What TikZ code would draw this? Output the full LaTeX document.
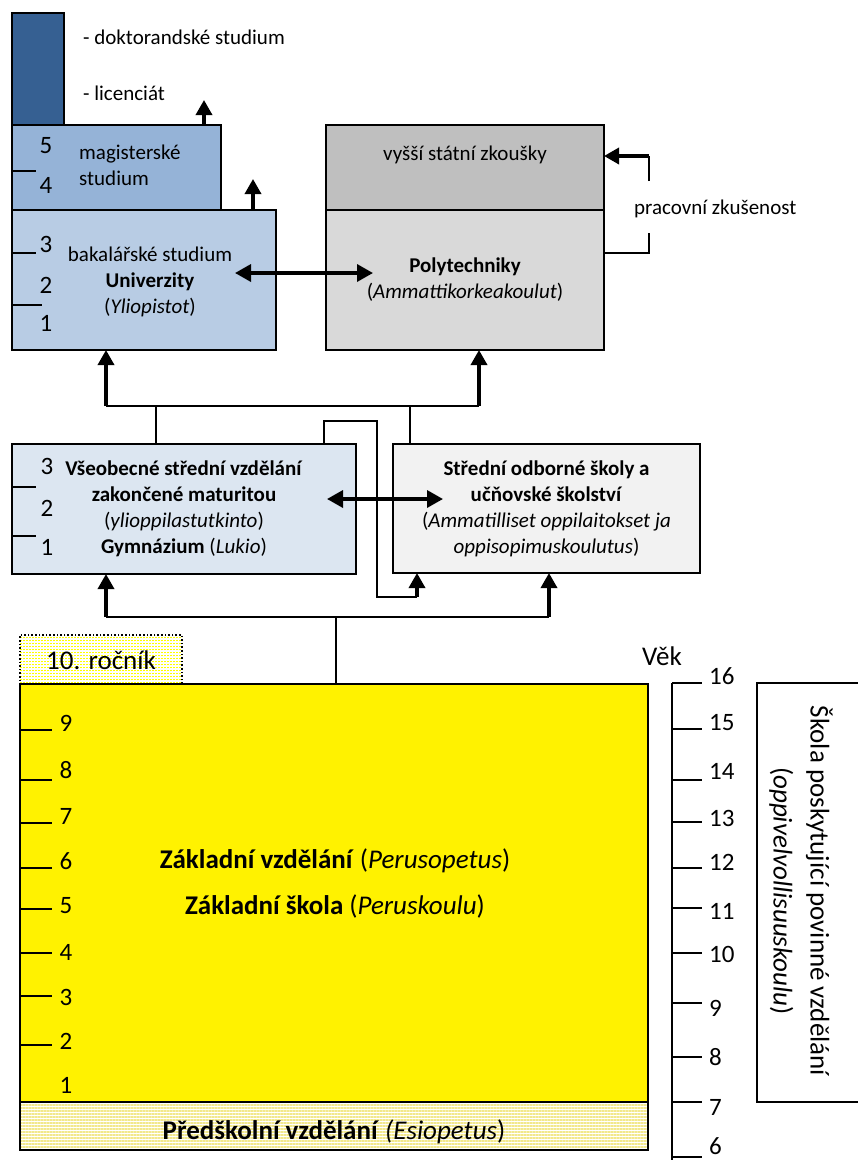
\documentclass[tikz,border=0pt]{standalone}
\usepackage{fontspec}
\setmainfont{Carlito}
\usetikzlibrary{arrows.meta, positioning, patterns.meta}

\definecolor{docblue}{HTML}{366092}
\definecolor{magblue}{HTML}{95B3D7}
\definecolor{bakblue}{HTML}{B8CCE4}
\definecolor{gymblue}{HTML}{DCE6F1}
\definecolor{examgray}{HTML}{BFBFBF}
\definecolor{polygray}{HTML}{D9D9D9}
\definecolor{vocgray}{HTML}{F2F2F2}
\definecolor{paleyellow}{HTML}{F2E88C}

\tikzset{
	box/.style={draw, line width=1.6pt, inner sep=0pt, outer sep=0pt, align=center},
	conn/.style={line width=1.5pt},
	link/.style={line width=3.4pt, -{Triangle[length=15pt,width=16pt]}},
	twoway/.style={line width=3.4pt, {Triangle[length=16pt,width=17pt]}-{Triangle[length=16pt,width=17pt]}},
	tickline/.style={line width=1.6pt},
	num/.style={inner sep=0pt, font=\fontsize{25}{30}\selectfont},
	big/.style={font=\fontsize{27}{37}\selectfont},
	every node/.append style={font=\fontsize{21}{26}\selectfont},
}

\begin{document}
\begin{tikzpicture}[x=1pt, y=-1pt]
	\useasboundingbox (0,0) rectangle (857,1162);

	% university side
	\node (doc) [box, fill=docblue, minimum width=52pt, minimum height=112pt] at (38,69) {};
	\node (mag) [box, fill=magblue, minimum width=209pt, minimum height=85pt] at (116.5,167.5) {};
	\node (bak) [box, fill=bakblue, minimum width=264pt, minimum height=140pt] at (144,280) {};
	\node (baklab) [align=center] at (150,282)
		{bakalářské studium\\\textbf{Univerzity}\\(\textit{Yliopistot})};
	\node (doklab) [anchor=west, inner sep=0pt] at (83,37) {- doktorandské studium};
	\node (liclab) [anchor=west, inner sep=0pt] at (83,93) {- licenciát};
	\node (maglab) [anchor=west, align=left, inner sep=0pt] at (79,165) {magisterské\\studium};

	% polytechnics
	\node (exam) [box, fill=examgray, minimum width=278pt, minimum height=85pt] at (465,167.5) {};
	\node (poly) [box, fill=polygray, minimum width=278pt, minimum height=140pt] at (465,280)
		{\textbf{Polytechniky}\\(\textit{Ammattikorkeakoulut})};
	\node (examlab) at (465,155) {vyšší státní zkoušky};
	\node (worklab) [anchor=west, inner sep=0pt] at (634,209) {pracovní zkušenost};

	% secondary level
	\node (gym) [box, fill=gymblue, minimum width=344pt, minimum height=130pt] at (184,509)
		{\textbf{Všeobecné střední vzdělání}\\\textbf{zakončené maturitou}\\(\textit{ylioppilastutkinto})\\\textbf{Gymnázium} (\textit{Lukio})};
	\node (voc) [box, fill=vocgray, minimum width=307pt, minimum height=129pt] at (546.5,508.5)
		{\textbf{Střední odborné školy a}\\\textbf{učňovské školství}\\(\textit{Ammatilliset oppilaitokset ja}\\\textit{oppisopimuskoulutus})};

	% basic level
	\node (grade10) [box, dotted, pattern={Lines[angle=90,distance=3pt,line width=1.5pt]}, pattern color=yellow,
		minimum width=162pt, minimum height=49pt] at (101,659.5) {};
	\node (grade10lab) [big] at (101,660) {10. ročník};
	\node (basic) [box, fill=yellow, minimum width=628pt, minimum height=418pt] at (334,893) {};
	\node (pre) [box, pattern={Lines[angle=0,distance=3pt,line width=1.3pt]}, pattern color=paleyellow,
		minimum width=628pt, minimum height=48pt] at (334,1126) {};
	\node (basiclab1) [big] at (335,861) {\textbf{Základní vzdělání} (\textit{Perusopetus})};
	\node (basiclab2) [big] at (335,906) {\textbf{Základní škola} (\textit{Peruskoulu})};
	\node (prelab) [big] at (334,1132) {\textbf{Předškolní vzdělání} \textit{(Esiopetus})};

	% compulsory school
	\node (comp) [box, minimum width=105pt, minimum height=419pt] at (809.5,892.5) {};
	\node (complab) [big, rotate=-90, align=center] at (801,891)
		{Škola poskytující povinné vzdělání\\(\textit{oppivelvollisuuskoulu})};

	% year numbers
	\foreach \n/\y in {5/146, 4/185, 3/244, 2/285, 1/323}
		\node (uni\n) [num] at (46,\y) {\n};
	\foreach \n/\y in {3/466, 2/508, 1/547}
		\node (gymn\n) [num] at (47,\y) {\n};
	\draw [tickline] (12,171) -- (36,171);
	\draw [tickline] (12,253) -- (36,253);
	\draw [tickline] (12,305) -- (42,305);
	\draw [tickline] (12,487) -- (36,487);
	\draw [tickline] (12,536) -- (36,536);
	\foreach \t in {730, 780, 823, 868, 909, 953, 996, 1045}
		\draw [tickline] (20,\t) -- (52,\t);
	\foreach \n/\y in {9/723, 8/770, 7/816, 6/861, 5/906, 4/952, 3/997, 2/1041, 1/1085}
		\node (grade\n) [num] at (66,\y) {\n};

	% age scale
	\node (agelab) [big] at (662,656) {Věk};
	\draw [tickline] (672,683) -- (672,1160);
	\foreach \a/\t/\l in {16/683/676, 15/729/723, 14/780/771, 13/822/818, 12/868/862, 11/908/911,
		10/953/954, 9/1003/1008, 8/1057/1057, 7/1102/1107, 6/1157/1146}
	{
		\draw [tickline] (672,\t) -- (702,\t);
		\node (age\a) [num, anchor=west] at (709,\l) {\a};
	}

	% connectors
	\coordinate (magout) at (204,100);
	\coordinate (bakout) at (253,179);
	\draw [link] (magout |- mag.north) -- (magout);
	\draw [link] (bakout |- bak.north) -- (bakout);

	\coordinate (bakin) at (235,273);
	\coordinate (polyin) at (373,273);
	\draw [twoway] (bakin) -- (polyin);

	\coordinate (workup) at (649,156);
	\coordinate (worktop) at (649,181);
	\coordinate (workbot) at (649,233);
	\coordinate (worklow) at (649,253);
	\draw [conn] (poly.east |- worklow) -- (worklow) -- (workbot);
	\draw [conn] (worktop) -- (workup);
	\draw [link] (workup) -- (exam.east |- workup);

	\coordinate (hubl) at (106,406);
	\coordinate (hubr) at (479,406);
	\coordinate (gymup) at (156,406);
	\coordinate (vocup) at (410,406);
	\draw [conn] (hubl) -- (hubr);
	\draw [conn] (gymup |- gym.north) -- (gymup);
	\draw [conn] (vocup |- voc.north) -- (vocup);
	\draw [link] (hubl) -- (hubl |- bak.south);
	\draw [link] (hubr) -- (hubr |- poly.south);

	\coordinate (loopa) at (324,421);
	\coordinate (loopb) at (377,597);
	\coordinate (loopc) at (417,597);
	\draw [conn] (loopa |- gym.north) -- (loopa) -| (loopb) -- (loopc);
	\draw [link] (loopc) -- (loopc |- voc.south);

	\coordinate (gymin) at (327,499);
	\coordinate (vocin) at (443,499);
	\draw [twoway] (gymin) -- (vocin);

	\coordinate (basel) at (106,617);
	\coordinate (baser) at (549,617);
	\coordinate (basem) at (336,617);
	\draw [conn] (basel) -- (baser);
	\draw [conn] (basem |- basic.north) -- (basem);
	\draw [link] (basel) -- (basel |- gym.south);
	\draw [link] (baser) -- (baser |- voc.south);
\end{tikzpicture}
\end{document}
